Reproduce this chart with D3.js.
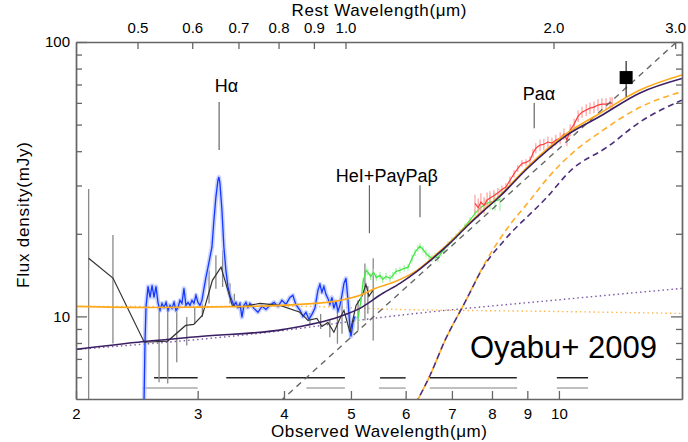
<!DOCTYPE html>
<html>
<head>
<meta charset="utf-8">
<script src="https://cdn.jsdelivr.net/npm/d3@7"></script>
<style>
  body { margin: 0; background: #fff; }
  svg { display: block; font-family: "Liberation Sans", Arial, sans-serif; }
</style>
</head>
<body>
<svg id="chart" width="688" height="442"></svg>
<script>
// 1+z, observed = rest * onePlusZ
const onePlusZ = 4.91;

const obsTicks = [2, 3, 4, 5, 6, 7, 8, 9, 10];
const restTicks = [0.5, 0.6, 0.7, 0.8, 0.9, 1.0, 2.0, 3.0];
const fluxMajor = [10, 100];
const fluxMinor = [6, 7, 8, 9, 20, 30, 40, 50, 60, 70, 80, 90];

// observed wavelength (um), flux (mJy)
const blueSpec = [
  [2.509, 4.9], [2.517, 8.03], [2.526, 10.88], [2.543, 12.86], [2.560, 11.73], [2.577, 12.97],
  [2.594, 11.73], [2.611, 12.86], [2.628, 11.25], [2.646, 10.52], [2.664, 11.15], [2.682, 10.78],
  [2.700, 11.25], [2.718, 10.52], [2.736, 10.97], [2.754, 10.70], [2.773, 11.25], [2.791, 10.52],
  [2.810, 10.78], [2.828, 11.44], [2.847, 11.15], [2.866, 12.65], [2.885, 10.97], [2.905, 11.25],
  [2.924, 10.97], [2.944, 11.44], [2.963, 11.15], [2.983, 11.93], [3.003, 11.25], [3.023, 10.97],
  [3.043, 11.44], [3.064, 12.65], [3.084, 13.88], [3.105, 15.09], [3.125, 16.42], [3.146, 17.87],
  [3.167, 22.41], [3.188, 27.2], [3.210, 31.36], [3.220, 32.2], [3.231, 30.6], [3.253, 24.37],
  [3.274, 17.87], [3.296, 14.72], [3.318, 12.86], [3.341, 11.93], [3.363, 11.44], [3.386, 10.97],
  [3.408, 11.25], [3.431, 10.78], [3.454, 11.15], [3.477, 9.92], [3.500, 10.97], [3.524, 11.25],
  [3.547, 10.78], [3.571, 11.15], [3.619, 10.70], [3.667, 10.35], [3.717, 10.88], [3.767, 10.61],
  [3.817, 10.97], [3.869, 11.25], [3.921, 10.88], [3.973, 11.44], [4.026, 11.06], [4.080, 11.73],
  [4.120, 11.93], [4.161, 11.06], [4.219, 10.52], [4.261, 10.0], [4.304, 10.35], [4.347, 9.75],
  [4.390, 10.17], [4.434, 10.70], [4.479, 12.44], [4.509, 13.08], [4.539, 12.24], [4.569, 12.86],
  [4.600, 12.03], [4.631, 11.63], [4.662, 11.06], [4.693, 11.73], [4.724, 10.70], [4.756, 11.34],
  [4.788, 10.43], [4.820, 10.97], [4.852, 11.93], [4.885, 13.2], [4.918, 13.76], [4.951, 11.44],
  [4.984, 9.05], [5.001, 8.45], [5.035, 9.51], [5.069, 10.0]
];

const blackSpec = [
  [2.086, 16.28], [2.262, 13.8], [2.511, 8.05], [2.715, 8.13], [2.882, 9.27], [2.961, 9.35],
  [3.047, 10.08], [3.151, 13.53], [3.243, 15.13], [3.367, 10.97], [3.445, 10.8], [3.692, 11.15],
  [3.947, 10.97], [4.219, 10.35], [4.333, 9.67], [4.464, 9.83], [4.539, 9.19], [4.631, 9.51],
  [4.724, 8.75], [4.820, 9.83], [4.885, 10.52], [4.984, 8.75], [5.086, 10.97], [5.187, 11.84],
  [5.256, 13.08], [5.309, 11.84], [5.379, 12.44]
];

// [wavelength, low, high]
const blackErr = [
  [2.086, 3, 29.1], [2.262, 7.97, 19.8], [2.638, 5.76, 10.8], [2.715, 5.7, 10.7], [2.798, 6.8, 10.52],
  [2.893, 7.84, 9.94], [2.971, 9.4, 10.8], [3.047, 9.94, 11.15], [3.116, 11.15, 14.72],
  [3.188, 12.6, 16.7], [3.26, 12.8, 17.41], [3.341, 11.15, 13.2], [3.39, 10.8, 12.1],
  [4.36, 9.3, 10.3], [4.52, 9.0, 10.2], [4.66, 8.4, 9.7], [4.78, 7.95, 10.97], [4.853, 8.65, 11.44],
  [4.984, 8.31, 10.26], [5.12, 8.89, 11.44], [5.238, 9.67, 15.6], [5.29, 10.23, 12.9], [5.385, 8.17, 16.3]
];

// [wavelength, flux, error]
const greenSpec = [
  [5.12, 9.83, 0.3], [5.17, 11.44, 0.4], [5.205, 13.3, 0.5], [5.256, 14.72, 0.5], [5.29, 14.5, 0.4],
  [5.34, 13.97, 0.4], [5.39, 14.5, 0.4], [5.44, 13.85, 0.4], [5.508, 14.11, 0.4], [5.56, 13.64, 0.4],
  [5.62, 13.97, 0.4], [5.694, 13.76, 0.4], [5.75, 14.11, 0.4], [5.81, 14.6, 0.4], [5.887, 14.72, 0.4],
  [5.97, 14.97, 0.4], [6.047, 15.09, 0.4], [6.13, 16.28, 0.5], [6.19, 17.1, 0.5], [6.25, 17.7, 0.5],
  [6.293, 17.99, 0.5], [6.356, 17.56, 0.5], [6.42, 16.98, 0.5], [6.485, 16.56, 0.5], [6.55, 16.28, 0.5],
  [6.62, 16.56, 0.5], [6.68, 16.28, 0.5], [6.75, 16.98, 0.5], [6.82, 17.56, 0.5], [6.91, 18.3, 0.5],
  [7.0, 18.94, 0.5], [7.1, 19.58, 0.5], [7.19, 20.27, 0.5], [7.31, 21.3, 0.5], [7.435, 22.41, 0.6],
  [7.56, 23.76, 0.6], [7.687, 24.8, 0.8], [7.82, 25.6, 1.2], [7.947, 26.1, 1.6], [8.08, 26.3, 2.0],
  [8.217, 26.7, 2.4]
];

const redSpec = [
  [7.56, 25.8, 2.0], [7.64, 24.9, 2.0], [7.71, 26.1, 2.0], [7.79, 25.4, 1.8], [7.87, 26.5, 1.8],
  [7.947, 27.0, 1.6], [8.05, 27.5, 1.4], [8.16, 28.2, 1.2], [8.27, 29.0, 1.0], [8.38, 29.6, 1.0],
  [8.495, 31.36, 1.0], [8.61, 33.1, 1.0], [8.72, 34.6, 1.0], [8.84, 36.1, 1.0], [8.96, 36.4, 1.0],
  [9.08, 37.1, 1.2], [9.17, 39.3, 1.5], [9.26, 41.0, 1.8], [9.389, 42.1, 2.0], [9.51, 42.4, 2.0],
  [9.64, 43.2, 2.0], [9.77, 42.8, 2.0], [9.90, 43.9, 2.0], [10.04, 44.6, 2.2], [10.17, 46.2, 2.2],
  [10.27, 43.9, 2.2], [10.38, 47.7, 2.4], [10.52, 50.2, 2.4], [10.66, 53.7, 2.6], [10.8, 55.5, 2.6],
  [10.95, 56.5, 2.8], [11.09, 57.4, 2.8], [11.24, 57.9, 2.8], [11.39, 58.9, 3.0], [11.54, 59.4, 3.0],
  [11.7, 59.4, 3.0], [11.86, 59.9, 3.0], [11.94, 59.9, 3.0]
];

// photometric point: wavelength, flux, low, high
const photPoint = [12.51, 74.2, 63.2, 85.3];

// model curves
const totalOrange = [
  [2.0, 10.88], [2.56, 10.78], [3.571, 10.88], [4.219, 11.06], [4.82, 11.44], [5.153, 11.93],
  [5.417, 12.65], [5.75, 13.3], [6.23, 14.72], [6.57, 16.42], [6.955, 18.64], [7.36, 21.48],
  [7.77, 24.37], [8.217, 27.64], [9.0, 35.0], [10.27, 46.5], [11.47, 55.0], [13.10, 66.8], [15.07, 75.8]
];
const totalPurple = [
  [2.0, 7.58], [2.509, 8.1], [3.023, 8.45], [4.0, 8.97], [4.82, 10.0], [5.153, 10.7], [5.56, 12.14],
  [5.887, 13.2], [6.23, 14.6], [6.57, 16.28], [6.955, 18.5], [7.36, 21.3], [7.77, 24.2], [8.217, 27.4],
  [9.0, 34.6], [10.27, 45.8], [11.47, 53.6], [13.10, 65.2], [15.07, 73.6]
];
const diskOrange = [[2.0, 10.88], [4.219, 10.88], [5.887, 10.6], [9.707, 10.43], [15.07, 10.25]];
const diskPurple = [[2.0, 7.58], [4.0, 8.89], [5.38, 9.83], [10.5, 11.63], [15.07, 12.65]];
const dustOrange = [
  [6.25, 4.98], [6.507, 6.09], [6.84, 8.17], [7.31, 11.25], [7.82, 15.7], [8.38, 20.6], [9.08, 26.5],
  [9.71, 32.7], [10.45, 39.3], [11.47, 46.9], [13.10, 57.8], [15.07, 66.0]
];
const dustPurple = [
  [6.25, 4.98], [6.507, 6.09], [6.84, 8.17], [7.31, 11.25], [7.82, 15.5], [8.33, 18.9], [9.61, 27.2],
  [10.41, 34.1], [11.74, 41.4], [13.10, 51.1], [15.07, 61.4]
];
const powerLaw = [[3.95, 4.9], [14.8, 100]];

// wavelength coverage bars [start, end]
const coverBlack = [[2.594, 3.0], [3.30, 4.90], [5.51, 6.0], [6.5, 8.69], [9.93, 11.02]];
const coverGray = [[2.497, 3.0], [4.31, 4.90], [5.49, 6.0], [6.5, 8.7], [9.93, 11.02]];
const coverLevels = { black: 5.97, gray: 5.48 };

// emission lines: rest wavelength, marker low/high flux
const lineMarks = [
  { rest: 0.6563, lo: 40.4, hi: 60.5 },
  { rest: 1.083, lo: 20.1, hi: 30.07 },
  { rest: 1.2818, lo: 23.0, hi: 30.07 },
  { rest: 1.8756, lo: 48.5, hi: 59.9 }
];
const lineLabels = [
  { text: 'Hα', lam: 3.303, f: 65.7, anchor: 'middle' },
  { text: 'HeI+PaγPaβ', lam: 4.755, f: 30.8, anchor: 'start' },
  { text: 'Paα', lam: 9.355, f: 61.4, anchor: 'middle' }
];

const W = 688, H = 442;
const mLeft = 76, mRight = 682, mTop = 42, mBottom = 399;

const svg = d3.select('#chart');
svg.append('rect').attr('width', W).attr('height', H).attr('fill', '#fff');

const x = d3.scaleLog().domain([2, 15.07]).range([mLeft, mRight]);
const xRest = d3.scaleLog().domain([2 / onePlusZ, 15.07 / onePlusZ]).range([mLeft, mRight]);
const y = d3.scaleLog().domain([5, 100]).range([mBottom, mTop]);

svg.append('clipPath').attr('id', 'plot')
  .append('rect').attr('x', mLeft).attr('y', mTop).attr('width', mRight - mLeft).attr('height', mBottom - mTop);

const plot = svg.append('g').attr('clip-path', 'url(#plot)');

const line = d3.line().x(d => x(d[0])).y(d => y(d[1]));
const smooth = d3.line().x(d => x(d[0])).y(d => y(d[1])).curve(d3.curveMonotoneX);

// coverage bars
plot.selectAll(null).data(coverGray).enter().append('line')
  .attr('x1', d => x(d[0])).attr('x2', d => x(d[1]))
  .attr('y1', y(coverLevels.gray)).attr('y2', y(coverLevels.gray))
  .attr('stroke', '#aaa').attr('stroke-width', 1.5);
plot.selectAll(null).data(coverBlack).enter().append('line')
  .attr('x1', d => x(d[0])).attr('x2', d => x(d[1]))
  .attr('y1', y(coverLevels.black)).attr('y2', y(coverLevels.black))
  .attr('stroke', '#222').attr('stroke-width', 1.5);

// dotted components
plot.append('path').attr('d', smooth(diskOrange)).attr('fill', 'none')
  .attr('stroke', '#ffb84d').attr('stroke-width', 1.4).attr('stroke-dasharray', '1.5,3');
plot.append('path').attr('d', smooth(diskPurple)).attr('fill', 'none')
  .attr('stroke', '#7b5aa6').attr('stroke-width', 1.4).attr('stroke-dasharray', '1.5,3');

// black low-res spectrum error bars
plot.selectAll(null).data(blackErr).enter().append('line')
  .attr('x1', d => x(d[0])).attr('x2', d => x(d[0]))
  .attr('y1', d => y(d[1])).attr('y2', d => y(d[2]))
  .attr('stroke', '#888').attr('stroke-width', 1.3);

// blue spectrum, with its error band
plot.append('path').attr('d', line(blueSpec)).attr('fill', 'none')
  .attr('stroke', '#b3c1ff').attr('stroke-width', 4.5).attr('stroke-linejoin', 'round').attr('opacity', 0.7);
plot.append('path').attr('d', line(blueSpec)).attr('fill', 'none')
  .attr('stroke', '#1438ff').attr('stroke-width', 1.3);

plot.append('path').attr('d', line(blackSpec)).attr('fill', 'none')
  .attr('stroke', '#333').attr('stroke-width', 1.2);

// green and red spectra
function drawSpec(data, col, errCol) {
  plot.selectAll(null).data(data).enter().append('line')
    .attr('x1', d => x(d[0])).attr('x2', d => x(d[0]))
    .attr('y1', d => y(d[1] - d[2])).attr('y2', d => y(d[1] + d[2]))
    .attr('stroke', errCol).attr('stroke-width', 1);
  plot.append('path').attr('d', line(data)).attr('fill', 'none')
    .attr('stroke', col).attr('stroke-width', 1.2);
}
drawSpec(greenSpec, '#3ee63e', '#8df08d');
drawSpec(redSpec, '#ff3b3b', '#ff8c8c');

// dashed components
plot.append('path').attr('d', smooth(dustOrange)).attr('fill', 'none')
  .attr('stroke', '#ffad2a').attr('stroke-width', 1.6).attr('stroke-dasharray', '6,4');
plot.append('path').attr('d', smooth(dustPurple)).attr('fill', 'none')
  .attr('stroke', '#4b2e7a').attr('stroke-width', 1.6).attr('stroke-dasharray', '6,4').attr('stroke-dashoffset', 5);
plot.append('path').attr('d', line(powerLaw)).attr('fill', 'none')
  .attr('stroke', '#666').attr('stroke-width', 1.4).attr('stroke-dasharray', '6,5');

// total models
plot.append('path').attr('d', smooth(totalOrange)).attr('fill', 'none')
  .attr('stroke', '#ffa91a').attr('stroke-width', 1.6);
plot.append('path').attr('d', smooth(totalPurple)).attr('fill', 'none')
  .attr('stroke', '#3b1f63').attr('stroke-width', 1.6);

// photometric point
plot.append('line')
  .attr('x1', x(photPoint[0])).attr('x2', x(photPoint[0]))
  .attr('y1', y(photPoint[2])).attr('y2', y(photPoint[3]))
  .attr('stroke', '#222').attr('stroke-width', 1.2);
plot.append('rect')
  .attr('x', x(photPoint[0]) - 6.5).attr('y', y(photPoint[1]) - 6.5)
  .attr('width', 13).attr('height', 13).attr('fill', '#000');

// emission line markers
svg.selectAll(null).data(lineMarks).enter().append('line')
  .attr('x1', d => x(d.rest * onePlusZ)).attr('x2', d => x(d.rest * onePlusZ))
  .attr('y1', d => y(d.lo)).attr('y2', d => y(d.hi))
  .attr('stroke', '#666').attr('stroke-width', 1.2);
svg.selectAll(null).data(lineLabels).enter().append('text')
  .attr('x', d => x(d.lam)).attr('y', d => y(d.f))
  .attr('text-anchor', d => d.anchor)
  .attr('font-size', 18).attr('fill', '#000')
  .text(d => d.text);

svg.append('text').attr('x', x(7.435)).attr('y', y(7.03))
  .attr('font-size', 31).attr('fill', '#000').text('Oyabu+ 2009');

// axes
function styleAxis(g) {
  g.selectAll('.domain').attr('stroke', '#666').attr('stroke-width', 1.4);
  g.selectAll('.tick line').attr('stroke', '#666').attr('stroke-width', 1.3);
  g.selectAll('.tick text').attr('font-size', 15).attr('fill', '#000')
    .attr('font-family', '"Liberation Sans", Arial, sans-serif');
}

svg.append('g').attr('transform', `translate(0,${mBottom})`)
  .call(d3.axisBottom(x).tickValues(obsTicks).tickFormat(d3.format('d'))
    .tickSize(-8).tickSizeOuter(0).tickPadding(9))
  .call(styleAxis);

svg.append('g').attr('transform', `translate(0,${mTop})`)
  .call(d3.axisTop(xRest).tickValues(restTicks).tickFormat(d3.format('.1f'))
    .tickSize(-7).tickSizeOuter(0).tickPadding(9))
  .call(styleAxis);

svg.append('g').attr('transform', `translate(${mLeft},0)`)
  .call(d3.axisLeft(y).tickValues(fluxMajor).tickFormat(d3.format('d'))
    .tickSize(-11).tickSizeOuter(0).tickPadding(6))
  .call(styleAxis);
svg.append('g').attr('transform', `translate(${mLeft},0)`)
  .call(d3.axisLeft(y).tickValues(fluxMinor).tickFormat('').tickSize(-6).tickSizeOuter(0))
  .call(styleAxis);

svg.append('g').attr('transform', `translate(${mRight},0)`)
  .call(d3.axisRight(y).tickValues(fluxMajor).tickFormat('').tickSize(-11).tickSizeOuter(0))
  .call(styleAxis);
svg.append('g').attr('transform', `translate(${mRight},0)`)
  .call(d3.axisRight(y).tickValues(fluxMinor).tickFormat('').tickSize(-6).tickSizeOuter(0))
  .call(styleAxis);

// titles
svg.append('text').attr('x', (mLeft + mRight) / 2).attr('y', 16).attr('text-anchor', 'middle')
  .attr('font-size', 17).attr('textLength', 175).text('Rest Wavelength(μm)');
svg.append('text').attr('x', (mLeft + mRight) / 2).attr('y', 437).attr('text-anchor', 'middle')
  .attr('font-size', 17).attr('textLength', 216).text('Observed Wavelength(μm)');
svg.append('text').attr('transform', 'translate(29,215) rotate(-90)').attr('text-anchor', 'middle')
  .attr('font-size', 17).attr('textLength', 146).text('Flux density(mJy)');
</script>
</body>
</html>
